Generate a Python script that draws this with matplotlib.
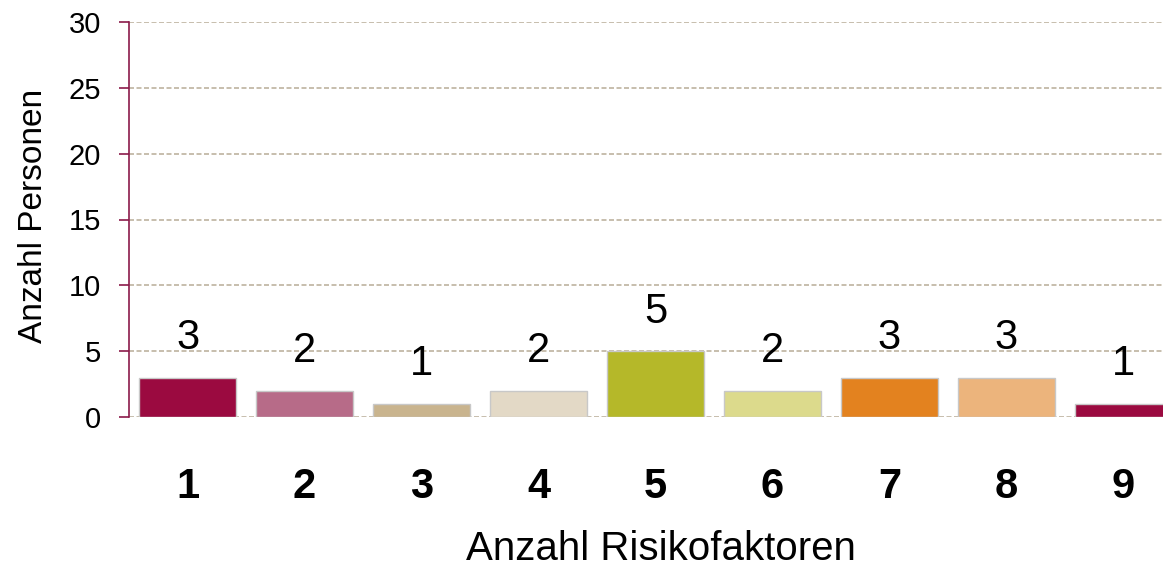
import matplotlib
matplotlib.use("Agg")
import matplotlib.pyplot as plt

# data
categories = [1, 2, 3, 4, 5, 6, 7, 8, 9]
persons = [3, 2, 1, 2, 5, 2, 3, 3, 1]
bar_colors = ["#9B0A40", "#B76B88", "#C9B48E", "#E3D9C6", "#B5B829",
              "#DCDA8C", "#E3821F", "#ECB47C", "#9B0A40"]
yticks = [0, 5, 10, 15, 20, 25, 30]

plt.rcParams['font.family'] = ['Liberation Sans', 'DejaVu Sans']

W, H = 1163, 573
fig = plt.figure(figsize=(W / 100, H / 100), dpi=100)
# axes runs past the right edge, like the reference
ax = fig.add_axes([129 / W, (H - 417) / H, 9 * 117 / W, 395 / H])

bars = ax.bar(categories, persons, width=0.83, color=bar_colors,
              edgecolor="#C8C8C8", linewidth=1, zorder=3)
ax.bar_label(bars, labels=[str(v) for v in persons], padding=14, fontsize=30)

ax.set_xlim(0.5, 9.5)
ax.set_ylim(0, 30)
ax.set_yticks(yticks)
ax.set_xticks(categories)
ax.set_xticklabels([str(c) for c in categories], fontsize=30, fontweight='bold')

ax.yaxis.grid(True, color="#BDB39F", linestyle=(0, (3, 1.5)), linewidth=1.2)
ax.set_axisbelow(True)

for s in ['top', 'right', 'bottom']:
    ax.spines[s].set_visible(False)
ax.spines['left'].set_color("#8B1A4A")
ax.spines['left'].set_linewidth(1.2)

ax.tick_params(axis='y', colors="#8B1A4A", labelcolor='black', length=7.2,
               width=1.2, pad=13, labelsize=21)
ax.tick_params(axis='x', length=0, pad=36)

fig.text(661 / W, (H - 560) / H, "Anzahl Risikofaktoren", ha='center',
         va='baseline', fontsize=29)
fig.text(34 / W, 1 - 216 / H, "Anzahl Personen", rotation=90, ha='center',
         va='center', fontsize=24)

fig.savefig("out.png", dpi=100)
